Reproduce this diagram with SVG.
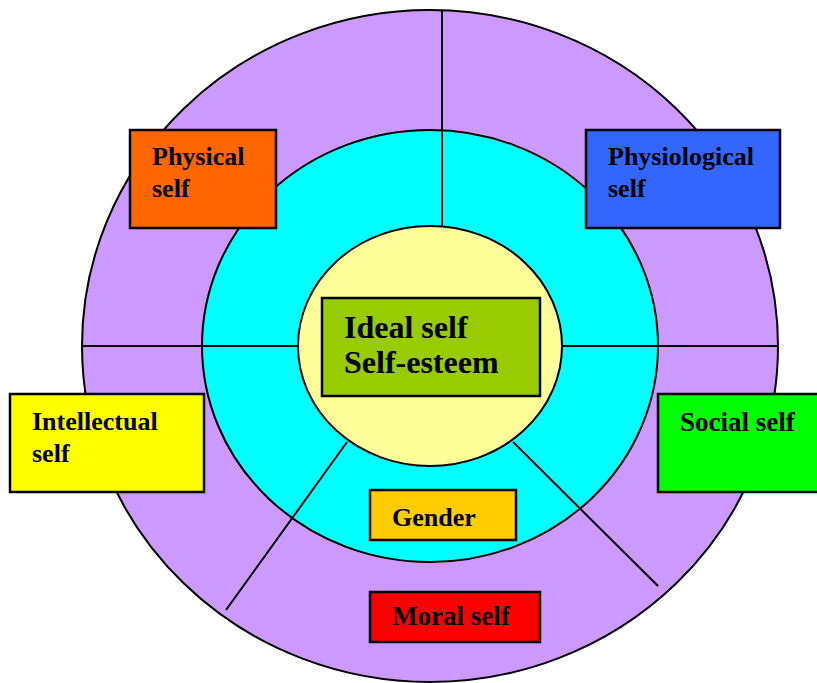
<svg xmlns="http://www.w3.org/2000/svg" width="817" height="683" viewBox="0 0 817 683">
<style>
.ring{stroke:#000;stroke-width:2}
.ln{stroke:#000;stroke-width:2;fill:none}
.box{stroke:#000;stroke-width:2.5}
.t{font-family:"Liberation Serif","Times New Roman",serif;font-weight:bold;font-size:26px;fill:#000}
.tb{font-family:"Liberation Serif","Times New Roman",serif;font-weight:bold;font-size:32px;fill:#000}
.tl{font-size:27px}
</style>
<rect width="817" height="683" fill="#fff"/>
<g id="rings">
<ellipse id="outer" class="ring" cx="430" cy="346" rx="348" ry="336" fill="#CC99FF"/>
<ellipse id="middle" class="ring" cx="430" cy="346" rx="228" ry="216" fill="#00FFFF"/>
<ellipse id="inner" class="ring" cx="430" cy="346" rx="132" ry="120" fill="#FFFF99"/>
</g>
<g id="connectors">
<line class="ln" x1="442" y1="10" x2="442" y2="226"/>
<line class="ln" x1="82" y1="346" x2="298" y2="346"/>
<line class="ln" x1="562" y1="346" x2="778" y2="346"/>
<line class="ln" x1="347" y1="442" x2="226" y2="610"/>
<line class="ln" x1="513" y1="442" x2="658" y2="586"/>
</g>
<g id="physical">
<rect class="box" x="130" y="130" width="146" height="98" fill="#FF6600"/>
<text class="t" x="152" y="165">Physical</text>
<text class="t" x="152" y="197">self</text>
</g>
<g id="physiological">
<rect class="box" x="586" y="130" width="194" height="98" fill="#3366FF"/>
<text class="t" x="608" y="165">Physiological</text>
<text class="t" x="608" y="197">self</text>
</g>
<g id="ideal">
<rect class="box" x="322" y="298" width="218" height="98" fill="#99CC00"/>
<text class="tb" x="344" y="338">Ideal self</text>
<text class="tb" x="344" y="373">Self-esteem</text>
</g>
<g id="intellectual">
<rect class="box" x="10" y="394" width="194" height="98" fill="#FFFF00"/>
<text class="t" x="32" y="430">Intellectual</text>
<text class="t" x="32" y="462">self</text>
</g>
<g id="social">
<rect class="box" x="658" y="394" width="162" height="98" fill="#00FF00"/>
<text class="t tl" x="680" y="431">Social self</text>
</g>
<g id="gender">
<rect class="box" x="370" y="490" width="146" height="50" fill="#FFCC00"/>
<text class="t" x="392" y="526">Gender</text>
</g>
<g id="moral">
<rect class="box" x="370" y="592" width="170" height="50" fill="#FF0000"/>
<text class="t tl" x="392" y="625">Moral self</text>
</g>
</svg>
